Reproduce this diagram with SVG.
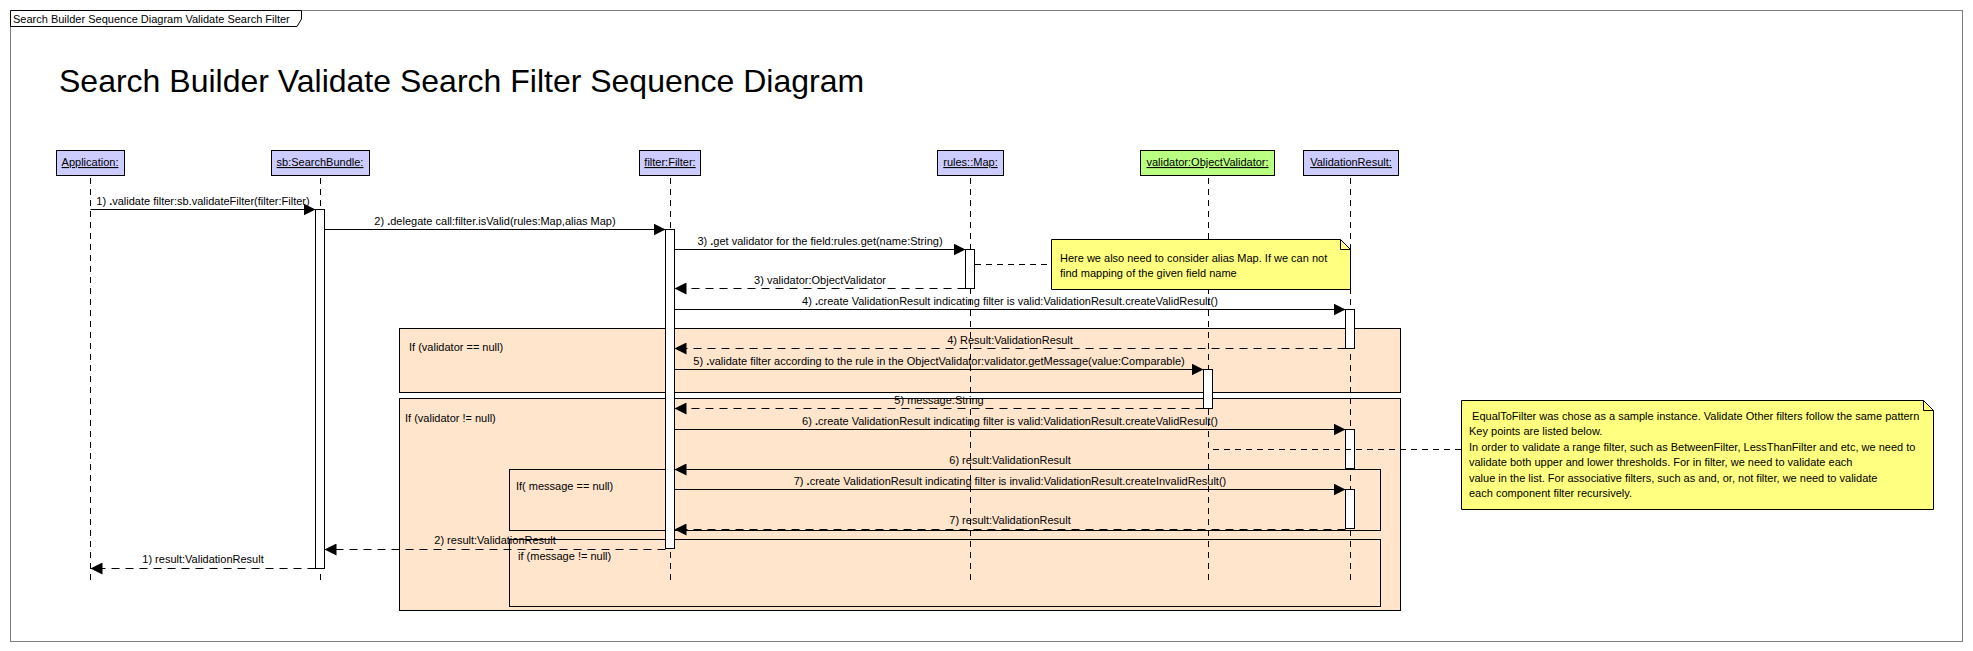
<svg xmlns="http://www.w3.org/2000/svg" width="1973" height="651" viewBox="0 0 1973 651">
<style>
text{font-family:"Liberation Sans",Arial,sans-serif;font-size:11px;fill:#000}
.title{font-size:32px}
.lbl{text-anchor:middle}
.b{font-weight:bold}
.box{fill:#CCCCFF;stroke:#000;stroke-width:1}
.boxg{fill:#B9FF82;stroke:#000;stroke-width:1}
.life{stroke:#000;stroke-width:1;stroke-dasharray:6 5;fill:none}
.act{fill:#fff;stroke:#000;stroke-width:1}
.frag{fill:#FFE5CC;stroke:#000;stroke-width:1}
.note{fill:#FFFF80;stroke:#000;stroke-width:1}
.msg{stroke:#000;stroke-width:1;fill:none;marker-end:url(#ah)}
.ret{stroke:#000;stroke-width:1;fill:none;stroke-dasharray:8 6;marker-end:url(#ah)}
.nc{stroke:#000;stroke-width:1;fill:none;stroke-dasharray:6 5}
.u{text-decoration:underline;text-anchor:middle}
</style>
<defs>
<marker id="ah" markerUnits="userSpaceOnUse" markerWidth="12" markerHeight="12" refX="12" refY="6" orient="auto">
<path d="M0,0 L12,6 L0,12 Z" fill="#000"/>
</marker>
</defs>
<rect x="0" y="0" width="1973" height="651" fill="#fff"/>
<g id="frame">
<rect x="10.5" y="10.5" width="1952" height="631" fill="none" stroke="#808080" stroke-width="1"/>
<path d="M10.5,10.5 H301.5 V19 L297,26.5 H10.5 Z" fill="#fff" stroke="#000" stroke-width="1"/>
<text x="13" y="23">Search Builder Sequence Diagram Validate Search Filter</text>
<text class="title" x="59" y="92">Search Builder Validate Search Filter Sequence Diagram</text>
</g>
<g id="fragments">
<g id="frag-validator-null">
<rect class="frag" x="399.5" y="328.5" width="1001" height="64"/>
<text x="409" y="351">If (validator == null)</text>
</g>
<g id="frag-validator-notnull">
<rect class="frag" x="399.5" y="398.5" width="1001" height="212"/>
<text x="405" y="422">If (validator != null)</text>
</g>
<g id="frag-message-null">
<rect class="frag" x="509.5" y="469.5" width="871" height="61"/>
<text x="516" y="490">If( message == null)</text>
</g>
<g id="frag-message-notnull">
<rect class="frag" x="509.5" y="539.5" width="871" height="67"/>
<text x="518" y="560">if (message != null)</text>
</g>
</g>
<g id="lifelines">
<g id="application">
<rect class="box" x="56.5" y="150.5" width="68" height="25"/>
<text class="u" x="90" y="166">Application:</text>
<line class="life" x1="90.5" y1="178" x2="90.5" y2="583"/>
</g>
<g id="searchbundle">
<rect class="box" x="271.5" y="150.5" width="98" height="25"/>
<text class="u" x="320" y="166">sb:SearchBundle:</text>
<line class="life" x1="320.5" y1="178" x2="320.5" y2="583"/>
<rect class="act" x="315.5" y="209.5" width="9" height="359"/>
</g>
<g id="filter">
<rect class="box" x="639.5" y="150.5" width="61" height="25"/>
<text class="u" x="670" y="166">filter:Filter:</text>
<line class="life" x1="670.5" y1="178" x2="670.5" y2="583"/>
<rect class="act" x="665.5" y="229.5" width="9" height="319"/>
</g>
<g id="rules">
<rect class="box" x="937.5" y="150.5" width="66" height="25"/>
<text class="u" x="970.5" y="166">rules::Map:</text>
<line class="life" x1="970.5" y1="178" x2="970.5" y2="583"/>
<rect class="act" x="965.5" y="249.5" width="9" height="39"/>
</g>
<g id="validator">
<rect class="boxg" x="1140.5" y="150.5" width="134" height="25"/>
<text class="u" x="1207.5" y="166">validator:ObjectValidator:</text>
<line class="life" x1="1208.5" y1="178" x2="1208.5" y2="583"/>
<rect class="act" x="1203.5" y="369.5" width="9" height="39"/>
</g>
<g id="validationresult">
<rect class="box" x="1303.5" y="150.5" width="95" height="25"/>
<text class="u" x="1351" y="166">ValidationResult:</text>
<line class="life" x1="1350.5" y1="178" x2="1350.5" y2="583"/>
<rect class="act" x="1345.5" y="309.5" width="9" height="39"/>
<rect class="act" x="1345.5" y="429.5" width="9" height="39"/>
<rect class="act" x="1345.5" y="489.5" width="9" height="39"/>
</g>
</g>
<g id="notes">
<g id="note-alias">
<path class="note" d="M1051.5,239.5 H1340.5 L1350.5,249.5 V289.5 H1051.5 Z"/>
<path d="M1340.5,239.5 V249.5 H1350.5" fill="none" stroke="#000"/>
<text x="1060" y="262">Here we also need to consider alias Map. If we can not</text>
<text x="1060" y="277">find mapping of the given field name</text>
</g>
<g id="note-equal">
<path class="note" d="M1461.5,400.5 H1923.5 L1933.5,410.5 V509.5 H1461.5 Z"/>
<path d="M1923.5,400.5 V410.5 H1933.5" fill="none" stroke="#000"/>
<text x="1469" y="420" xml:space="preserve"> EqualToFilter was chose as a sample instance. Validate Other filters follow the same pattern</text>
<text x="1469" y="435">Key points are listed below.</text>
<text x="1469" y="451">In order to validate a range filter, such as BetweenFilter, LessThanFilter and etc, we need to</text>
<text x="1469" y="466">validate both upper and lower thresholds. For in filter, we need to validate each</text>
<text x="1469" y="482">value in the list. For associative filters, such as and, or, not filter, we need to validate</text>
<text x="1469" y="497">each component filter recursively.</text>
</g>
</g>
<g id="connectors">
<line class="nc" x1="975" y1="264.5" x2="1051" y2="264.5"/>
<line class="nc" x1="1213" y1="449.5" x2="1461" y2="449.5"/>
<line class="msg" x1="90.5" y1="209.5" x2="315.5" y2="209.5"/>
<text class="lbl" x="203" y="205">1) <tspan class="b">.</tspan>validate filter:sb.validateFilter(filter:Filter)</text>
<line class="msg" x1="324.5" y1="229.5" x2="665.5" y2="229.5"/>
<text class="lbl" x="495" y="225">2) <tspan class="b">.</tspan>delegate call:filter.isValid(rules:Map,alias Map)</text>
<line class="msg" x1="674.5" y1="249.5" x2="965.5" y2="249.5"/>
<text class="lbl" x="820" y="245">3) <tspan class="b">.</tspan>get validator for the field:rules.get(name:String)</text>
<line class="ret" x1="965.5" y1="288.5" x2="674.5" y2="288.5"/>
<text class="lbl" x="820" y="284">3) validator:ObjectValidator</text>
<line class="msg" x1="674.5" y1="309.5" x2="1345.5" y2="309.5"/>
<text class="lbl" x="1010" y="305">4) <tspan class="b">.</tspan>create ValidationResult indicating filter is valid:ValidationResult.createValidResult()</text>
<line class="ret" x1="1345.5" y1="348.5" x2="674.5" y2="348.5"/>
<text class="lbl" x="1010" y="344">4) Result:ValidationResult</text>
<line class="msg" x1="674.5" y1="369.5" x2="1203.5" y2="369.5"/>
<text class="lbl" x="939" y="365">5) <tspan class="b">.</tspan>validate filter according to the rule in the ObjectValidator:validator.getMessage(value:Comparable)</text>
<line class="ret" x1="1203.5" y1="408.5" x2="674.5" y2="408.5"/>
<text class="lbl" x="939" y="404">5) message:String</text>
<line class="msg" x1="674.5" y1="429.5" x2="1345.5" y2="429.5"/>
<text class="lbl" x="1010" y="425">6) <tspan class="b">.</tspan>create ValidationResult indicating filter is valid:ValidationResult.createValidResult()</text>
<line class="ret" x1="1345.5" y1="469.5" x2="674.5" y2="469.5"/>
<text class="lbl" x="1010" y="464">6) result:ValidationResult</text>
<line class="msg" x1="674.5" y1="489.5" x2="1345.5" y2="489.5"/>
<text class="lbl" x="1010" y="485">7) <tspan class="b">.</tspan>create ValidationResult indicating filter is invalid:ValidationResult.createInvalidResult()</text>
<line class="ret" x1="1345.5" y1="529.5" x2="674.5" y2="529.5"/>
<text class="lbl" x="1010" y="524">7) result:ValidationResult</text>
<line class="ret" x1="665.5" y1="549.5" x2="324.5" y2="549.5"/>
<text class="lbl" x="495" y="544">2) result:ValidationResult</text>
<line class="ret" x1="315.5" y1="568.5" x2="90.5" y2="568.5"/>
<text class="lbl" x="203" y="563">1) result:ValidationResult</text>
</g>
</svg>
